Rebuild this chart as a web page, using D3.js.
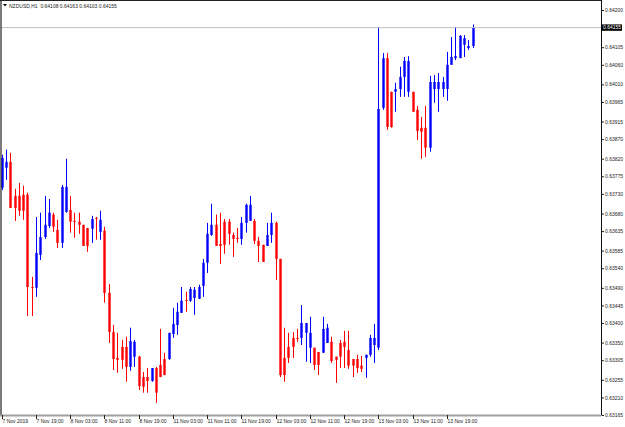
<!DOCTYPE html>
<html><head><meta charset="utf-8">
<script src="https://cdn.jsdelivr.net/npm/d3@7/dist/d3.min.js"></script>
<style>html,body{margin:0;padding:0;background:#fff;}svg{display:block;}</style>
</head><body>
<svg id="c" width="625" height="427"></svg>
<script>
const symbol = "NZDUSD,H1";
const open  = [0.63746,0.63797,0.63812,0.63725,0.63725,0.63728,0.63728,0.63492,0.63490,0.63574,
 0.63620,0.63648,0.63677,0.63638,0.63605,0.63684,0.63689,0.63661,0.63659,0.63651,
 0.63643,0.63641,0.63669,0.63633,0.63636,0.63477,0.63377,0.63311,0.63339,0.63339,
 0.63288,0.63314,0.63314,0.63262,0.63262,0.63252,0.63285,0.63293,0.63308,0.63308,
 0.63372,0.63395,0.63426,0.63459,0.63457,0.63464,0.63462,0.63495,0.63554,0.63625,
 0.63651,0.63602,0.63659,0.63659,0.63625,0.63618,0.63615,0.63656,0.63661,0.63661,
 0.63610,0.63600,0.63597,0.63625,0.63656,0.63564,0.63311,0.63339,0.63362,0.63362,
 0.63362,0.63375,0.63337,0.63337,0.63326,0.63324,0.63349,0.63352,0.63314,0.63349,
 0.63352,0.63331,0.63308,0.63308,0.63291,0.63311,0.63319,0.63344,0.63337,0.63950,
 0.64077,0.63991,0.63991,0.63998,0.64029,0.63991,0.63991,0.63945,0.63899,0.63899,
 0.63848,0.63998,0.63998,0.63998,0.63998,0.64060,0.64077,0.64077,0.64111,0.64103,
 0.64108];
const high  = [0.63830,0.63843,0.63835,0.63743,0.63758,0.63751,0.63733,0.63518,0.63671,0.63682,
 0.63725,0.63717,0.63682,0.63664,0.63753,0.63820,0.63725,0.63682,0.63682,0.63651,
 0.63643,0.63674,0.63671,0.63687,0.63646,0.63500,0.63395,0.63375,0.63357,0.63365,
 0.63388,0.63357,0.63316,0.63275,0.63285,0.63285,0.63288,0.63385,0.63324,0.63375,
 0.63439,0.63452,0.63492,0.63480,0.63492,0.63492,0.63498,0.63564,0.63656,0.63705,
 0.63677,0.63682,0.63666,0.63666,0.63631,0.63643,0.63671,0.63705,0.63725,0.63666,
 0.63620,0.63600,0.63656,0.63682,0.63659,0.63564,0.63388,0.63375,0.63377,0.63385,
 0.63446,0.63400,0.63416,0.63337,0.63326,0.63416,0.63398,0.63365,0.63314,0.63357,
 0.63380,0.63380,0.63308,0.63319,0.63316,0.63319,0.63370,0.63398,0.64157,0.64090,
 0.64090,0.63991,0.64014,0.64055,0.64080,0.64082,0.63991,0.63955,0.63927,0.63955,
 0.64032,0.64034,0.64039,0.64029,0.64093,0.64131,0.64157,0.64136,0.64136,0.64123,
 0.64163];
const low   = [0.63740,0.63766,0.63694,0.63661,0.63674,0.63664,0.63418,0.63418,0.63467,0.63561,
 0.63615,0.63643,0.63633,0.63592,0.63592,0.63682,0.63631,0.63618,0.63628,0.63597,
 0.63582,0.63605,0.63613,0.63613,0.63452,0.63349,0.63280,0.63273,0.63283,0.63250,
 0.63278,0.63288,0.63229,0.63222,0.63222,0.63250,0.63196,0.63262,0.63267,0.63306,
 0.63362,0.63370,0.63426,0.63429,0.63454,0.63421,0.63462,0.63467,0.63528,0.63623,
 0.63597,0.63551,0.63577,0.63600,0.63569,0.63605,0.63600,0.63631,0.63661,0.63602,
 0.63556,0.63556,0.63597,0.63605,0.63510,0.63262,0.63250,0.63298,0.63311,0.63352,
 0.63344,0.63301,0.63298,0.63280,0.63267,0.63324,0.63349,0.63298,0.63247,0.63285,
 0.63285,0.63283,0.63262,0.63273,0.63275,0.63260,0.63314,0.63298,0.63331,0.63945,
 0.63894,0.63899,0.63940,0.63978,0.63978,0.63978,0.63940,0.63868,0.63820,0.63825,
 0.63838,0.63963,0.63940,0.63978,0.63968,0.64060,0.64072,0.64077,0.64080,0.64098,
 0.64103];
const close = [0.63822,0.63812,0.63694,0.63694,0.63687,0.63687,0.63492,0.63490,0.63579,0.63620,
 0.63651,0.63682,0.63646,0.63605,0.63748,0.63748,0.63659,0.63659,0.63651,0.63597,
 0.63597,0.63666,0.63666,0.63664,0.63477,0.63377,0.63308,0.63306,0.63306,0.63288,
 0.63354,0.63352,0.63239,0.63237,0.63252,0.63285,0.63222,0.63262,0.63267,0.63375,
 0.63398,0.63429,0.63457,0.63457,0.63487,0.63485,0.63492,0.63554,0.63628,0.63651,
 0.63597,0.63597,0.63600,0.63628,0.63615,0.63615,0.63656,0.63702,0.63702,0.63610,
 0.63597,0.63556,0.63625,0.63656,0.63564,0.63267,0.63267,0.63311,0.63339,0.63360,
 0.63400,0.63400,0.63375,0.63293,0.63293,0.63385,0.63388,0.63303,0.63306,0.63314,
 0.63339,0.63291,0.63291,0.63285,0.63283,0.63319,0.63362,0.63362,0.63947,0.64077,
 0.63901,0.63901,0.63998,0.64029,0.64070,0.64070,0.63940,0.63891,0.63889,0.63848,
 0.64016,0.64016,0.64016,0.64016,0.64060,0.64080,0.64082,0.64134,0.64128,0.64108,
 0.64155];
const priceTicks = [0.64200,0.64155,0.64105,0.64060,0.64010,0.63965,0.63915,0.63870,0.63820,0.63775,
 0.63730,0.63680,0.63635,0.63585,0.63540,0.63490,0.63445,0.63400,0.63350,0.63305,0.63255,0.63210,0.63165];
const timeLabels = ["7 Nov 2019","7 Nov 19:00","8 Nov 03:00","8 Nov 11:00","8 Nov 19:00","11 Nov 03:00",
 "11 Nov 11:00","11 Nov 19:00","12 Nov 03:00","12 Nov 11:00","12 Nov 19:00","13 Nov 03:00","13 Nov 11:00","13 Nov 19:00"];
const timeTickIdx = [0,8,16,24,32,40,48,56,64,72,80,88,96,104];

const svg = d3.select("#c");
const W = 625, H = 427;
const plotR = 601, plotB = 415;
const n = open.length;
const x = d3.scaleLinear().domain([0, n - 1]).range([1.7, 1.7 + 4.28 * (n - 1)]);
const y = d3.scaleLinear().domain([0.63165, 0.64200]).range([415, 10]);
const FONT = "'Liberation Sans', Arial, sans-serif";
const f5 = d3.format(".5f");
const last = close[n - 1];

svg.append("rect").attr("width", W).attr("height", H).attr("fill", "#fff");

const g = svg.append("g");
// candles
const data = d3.range(n).map(i => ({i, o: open[i], h: high[i], l: low[i], c: close[i]}));
const col = d => d.c >= d.o ? "#0000ff" : "#ff0000";
g.selectAll("line.w").data(data).join("line")
  .attr("x1", d => Math.round(x(d.i)) + 0.5).attr("x2", d => Math.round(x(d.i)) + 0.5)
  .attr("y1", d => y(d.h)).attr("y2", d => y(d.l))
  .attr("stroke", col).attr("stroke-width", 1);
g.selectAll("rect.b").data(data).join("rect")
  .attr("x", d => Math.round(x(d.i)) - 0.7).attr("width", 2.4)
  .attr("y", d => y(Math.max(d.o, d.c)))
  .attr("height", d => Math.max(1, Math.abs(y(d.o) - y(d.c))))
  .attr("fill", col);

// bid line
svg.append("line").attr("x1", 1).attr("x2", plotR).attr("y1", y(last)).attr("y2", y(last))
  .attr("stroke", "#c0c0c0").attr("stroke-width", 1);

// frame
svg.append("line").attr("x1", 1).attr("x2", 1).attr("y1", 0).attr("y2", plotB).attr("stroke", "#222").attr("stroke-width", 1.2);
svg.append("line").attr("x1", 0).attr("x2", plotR).attr("y1", 0.5).attr("y2", 0.5).attr("stroke", "#222").attr("stroke-width", 1);
svg.append("line").attr("x1", 0).attr("x2", plotR).attr("y1", plotB + 0.5).attr("y2", plotB + 0.5).attr("stroke", "#a0a0a0").attr("stroke-width", 2);
svg.append("line").attr("x1", plotR + 0.5).attr("x2", plotR + 0.5).attr("y1", 0).attr("y2", plotB).attr("stroke", "#111").attr("stroke-width", 1);

// price axis (the label at the bid level is covered by the price box, as in the terminal)
const yAxis = d3.axisRight(y).tickValues(priceTicks).tickSize(2.5).tickPadding(1)
  .tickFormat(d => Math.abs(d - last) < 0.00002 ? "" : f5(d));
const ya = svg.append("g").attr("transform", `translate(${plotR + 0.5},0)`).call(yAxis);
ya.select(".domain").remove();
ya.selectAll("line").attr("stroke", "#222");
ya.selectAll("text").attr("font-family", FONT).attr("font-size", 5).attr("fill", "#222");

// time axis
const xa = svg.append("g");
xa.selectAll("line").data(timeTickIdx).join("line")
  .attr("x1", d => Math.round(x(d)) + 0.5).attr("x2", d => Math.round(x(d)) + 0.5)
  .attr("y1", plotB).attr("y2", plotB + 4).attr("stroke", "#222");
xa.selectAll("text").data(timeTickIdx).join("text")
  .attr("x", d => Math.round(x(d)) + 0.5).attr("y", 422.5)
  .attr("font-family", FONT).attr("font-size", 5).attr("fill", "#222")
  .text((d, k) => timeLabels[k]);

// current price box
const by = y(last);
svg.append("rect").attr("x", plotR).attr("y", by - 3.2).attr("width", 21).attr("height", 6.4).attr("fill", "#000");
svg.append("text").attr("x", plotR + 2).attr("y", by + 1.8).attr("font-family", FONT).attr("font-size", 5)
  .attr("fill", "#fff").text(f5(last));

// header
svg.append("path").attr("d", "M3,4 L7,4 L5,6.5 Z").attr("fill", "#000");
svg.append("text").attr("x", 9).attr("y", 7.5).attr("font-family", FONT).attr("font-size", 5).attr("fill", "#222")
  .attr("xml:space", "preserve").style("white-space", "pre")
  .text(`${symbol}  ${f5(open[n-1])} ${f5(high[n-1])} ${f5(low[n-1])} ${f5(last)}`);
</script>
</body></html>
